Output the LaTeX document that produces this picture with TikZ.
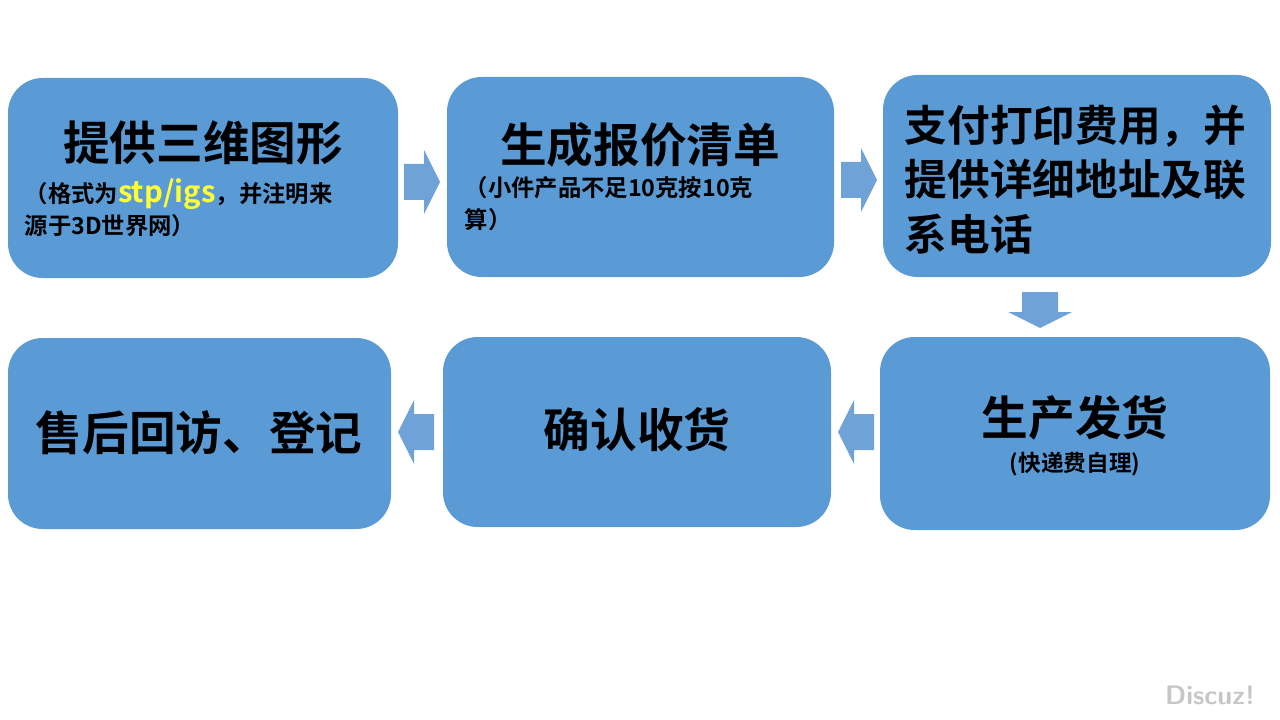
\documentclass[tikz,border=0pt]{standalone}
\usepackage{fontspec}
\setmainfont{Noto Sans CJK SC Bold}
\definecolor{stepblue}{HTML}{5B9BD5}
\definecolor{flowblue}{HTML}{6FA3D8}
\definecolor{tagyellow}{HTML}{FFFF33}
\tikzset{
    stepbox/.style={fill=stepblue,rounded corners=26,inner sep=0pt},
    flow/.style={fill=flowblue},
    title/.style={font=\fontsize{35}{40}\selectfont},
    note/.style={font=\fontsize{17.5}{24}\selectfont,align=left}
}
\newcommand\StepBox[5]{%
    \path[stepbox] (#2,#3) rectangle (#4,#5);
    \coordinate (#1) at ({(#2+#4)/2},{(#3+#5)/2});
}
% chunky arrow pointing right, rotated by #2, at coordinate #1
\newcommand\FlowArrow[2]{%
    \path[flow,shift={(#1)},rotate=#2] (-18,-18) -- (2,-18) -- (2,-32) -- (18,0)
        -- (2,32) -- (2,18) -- (-18,18) -- cycle;
}
\begin{document}
\begin{tikzpicture}[x=0.75pt,y=-0.75pt]
    \useasboundingbox (0,0) rectangle (1280,720);
    \StepBox{model}{8}{78}{398}{278}
    \StepBox{quote}{447}{77}{834}{277}
    \StepBox{pay}{883}{75}{1271}{277}
    \StepBox{ship}{880}{337}{1270}{530}
    \StepBox{receive}{443}{337}{831}{527}
    \StepBox{visit}{8}{338}{391}{529}
    % texts
    \node[title] (modelT) at (203,143) {提供三维图形};
    \node[note,anchor=north west] (modelN) at (20,174)
        {（格式为{\color{tagyellow}\fontsize{22}{18}\selectfont stp/igs}，并注明来\\源于3D世界网）};
    \node[title] (quoteT) at (640,145) {生成报价清单};
    \node[note,anchor=north west] (quoteN) at (460,172)
        {（小件产品不足10克按10克\\算）};
    \node[align=left,anchor=north west,font=\fontsize{32}{41}\selectfont] (payT) at (900,100)
        {支付打印费用，并\\提供详细地址及联\\系电话};
    \node[title] (shipT) at (1075,418) {生产发货};
    \node[font=\fontsize{17}{18}\selectfont] (shipN) at (1075,464) {(快递费自理)};
    \node[title] (receiveT) at (637,430) {确认收货};
    \node[title] (visitT) at (199,433) {售后回访、登记};
    % arrows
    \coordinate (a1) at (422,182);
    \coordinate (a2) at (859,180);
    \coordinate (a3) at (1040,310);
    \coordinate (a4) at (856,432);
    \coordinate (a5) at (416,432);
    \FlowArrow{a1}{0}
    \FlowArrow{a2}{0}
    \FlowArrow{a3}{-90}
    \FlowArrow{a4}{180}
    \FlowArrow{a5}{180}
    \node[text=gray!45,font=\fontsize{20}{24}\selectfont\sffamily\bfseries] (mark) at (1210,695) {Discuz!};
\end{tikzpicture}
\end{document}
